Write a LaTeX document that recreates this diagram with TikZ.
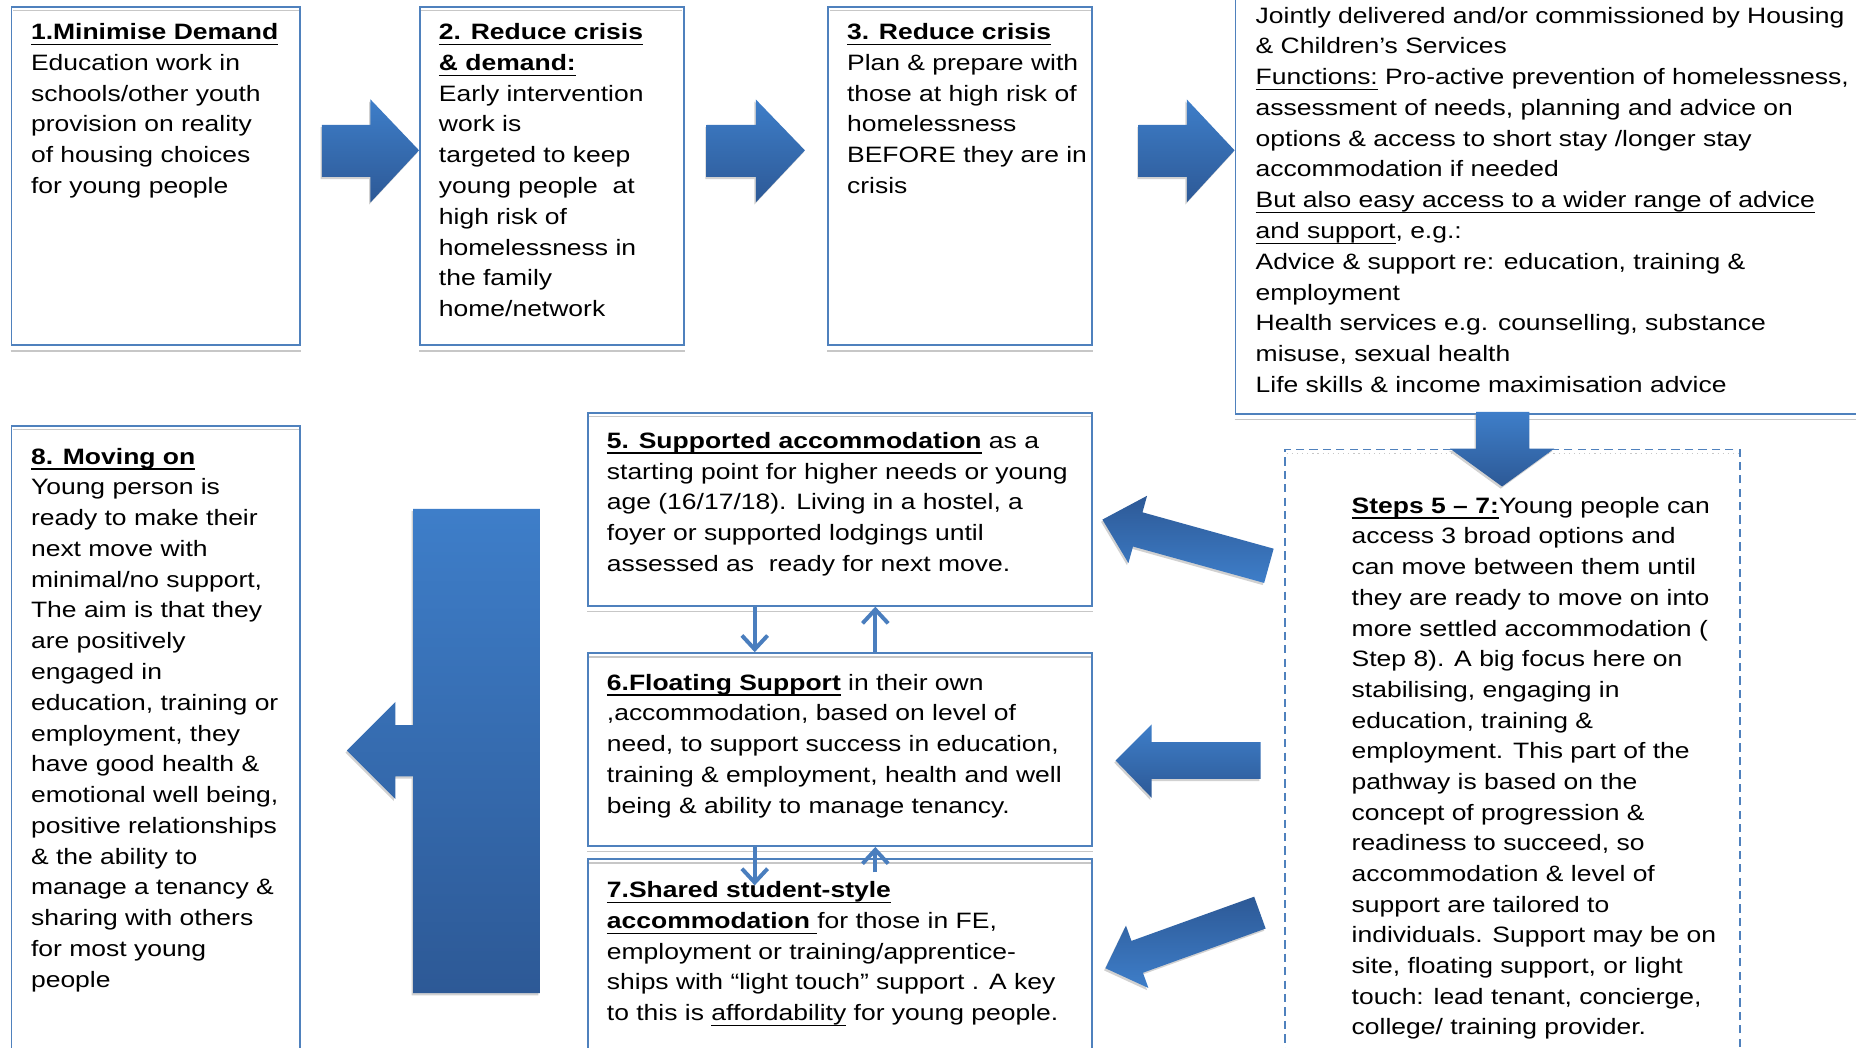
\documentclass[tikz,border=0pt]{standalone}
\usepackage{fontspec}
\setmainfont{Liberation Sans}[FakeStretch=1.19]
\usetikzlibrary{arrows.meta,calc}
\definecolor{boxblue}{RGB}{79,129,189}
\definecolor{arrtop}{RGB}{62,126,201}
\definecolor{arrbot}{RGB}{45,89,150}
\definecolor{lineblue}{RGB}{74,126,190}
\newsavebox\ulbox
\newcommand{\ulin}[1]{\sbox\ulbox{#1}\rlap{\rule[-2.9pt]{\wd\ulbox}{0.8pt}}\usebox\ulbox}
\begin{document}
\begin{tikzpicture}[x=0.6pt,y=-0.6pt,
  box/.style={draw=boxblue, line width=0.9pt, inner sep=0pt, anchor=north west},
  dbox/.style={draw=boxblue, line width=0.9pt, inner sep=0pt, anchor=north west, dash pattern=on 4.2pt off 2.6pt},
  txt/.style={font=\fontsize{11.28pt}{15.6pt}\selectfont, align=left, inner sep=0pt, anchor=north west, execute at begin node={\rule{0pt}{10pt}}},
  gline/.style={draw=black!22, line width=0.6pt},
  shadowpre/.style={preaction={fill=black!40, opacity=0.45, transform canvas={shift={(-0.7pt,-1.1pt)}}}},
  blk/.style={shadowpre, top color=arrtop, bottom color=arrbot, draw=none},
  blkr/.style={shadowpre, top color=arrbot, bottom color=arrtop, draw=none},
  smallarr/.style={draw=lineblue, line width=2pt, -{Straight Barb[length=7pt,width=13pt,line width=2pt]}}
]
\useasboundingbox (0,0) rectangle (1568,885);
\clip (0,0) rectangle (1568,885);
\fill[white] (0,0) rectangle (1568,885);

% ---------- boxes ----------
\node[box, minimum width={244*0.6pt}, minimum height={286*0.6pt}] (b1) at (9,5) {};
\node[box, minimum width={223*0.6pt}, minimum height={286*0.6pt}] (b2) at (354,5) {};
\node[box, minimum width={223*0.6pt}, minimum height={286*0.6pt}] (b3) at (699,5) {};
\node[box, minimum width={600*0.6pt}, minimum height={369*0.6pt}] (b4) at (1043,-20) {};
\node[box, minimum width={244*0.6pt}, minimum height={560*0.6pt}] (b8) at (9,359) {};
\node[box, minimum width={426*0.6pt}, minimum height={163*0.6pt}] (b5) at (496,348) {};
\node[box, minimum width={426*0.6pt}, minimum height={163*0.6pt}] (b6) at (496,551) {};
\node[box, minimum width={426*0.6pt}, minimum height={200*0.6pt}] (b7) at (496,725) {};
\node[dbox, minimum width={384*0.6pt}, minimum height={540*0.6pt}] (s57) at (1085,379) {};

\foreach \b in {b1,b2,b3,b5,b6,b8}{
  \draw[gline] ($(\b.north west)+(2,4)$) -- ($(\b.north east)+(-2,4)$);
  \draw[gline] ($(\b.south west)+(0,4)$) -- ($(\b.south east)+(0,4)$);
}
\draw[gline] ($(b7.north west)+(2,4)$) -- ($(b7.north east)+(-2,4)$);
\draw[gline] ($(b4.south west)+(0,4)$) -- ($(b4.south east)+(0,4)$);
\draw[gline, dotted] ($(s57.north west)+(2,4)$) -- ($(s57.north east)+(-2,4)$);

% ---------- texts ----------
\node[txt] (t1) at (25.9,19.5) {\ulin{\textbf{1.Minimise Demand}}\\
Education work in\\
schools/other youth\\
provision on reality\\
of housing choices\\
for young people};

\node[txt] (t2) at (370.5,19.5) {\ulin{\textbf{2. Reduce crisis}}\\
\ulin{\textbf{\& demand:}}\\
Early intervention\\
work is\\
targeted to keep\\
young people\ \ at\\
high risk of\\
homelessness in\\
the family\\
home/network};

\node[txt] (t3) at (715.3,19.5) {\ulin{\textbf{3. Reduce crisis}}\\
Plan \& prepare with\\
those at high risk of\\
homelessness\\
BEFORE they are in\\
crisis};

\node[txt] (t4) at (1060.5,5.5) {Jointly delivered and/or commissioned by Housing\\
\& Children’s Services\\
\ulin{Functions:} Pro-active prevention of homelessness,\\
assessment of needs, planning and advice on\\
options \& access to short stay /longer stay\\
accommodation if needed\\
\ulin{But also easy access to a wider range of advice}\\
\ulin{and support}, e.g.:\\
Advice \& support re: education, training \&\\
employment\\
Health services e.g. counselling, substance\\
misuse, sexual health\\
Life skills \& income maximisation advice};

\node[txt] (t5) at (512.4,364.8) {\ulin{\textbf{5. Supported accommodation}} as a\\
starting point for higher needs or young\\
age (16/17/18). Living in a hostel, a\\
foyer or supported lodgings until\\
assessed as\ \ ready for next move.};

\node[txt] (t6) at (512.4,569.1) {\ulin{\textbf{6.Floating Support}} in their own\\
,accommodation, based on level of\\
need, to support success in education,\\
training \& employment, health and well\\
being \& ability to manage tenancy.};

\node[txt] (t7) at (512.4,744.4) {\ulin{\textbf{7.Shared student-style}}\\
\ulin{\textbf{accommodation }}for those in FE,\\
employment or training/apprentice-\\
ships with “light touch” support . A key\\
to this is \ulin{affordability} for young people.};

\node[txt] (t8) at (25.9,378.1) {\ulin{\textbf{8. Moving on}}\\
Young person is\\
ready to make their\\
next move with\\
minimal/no support,\\
The aim is that they\\
are positively\\
engaged in\\
education, training or\\
employment, they\\
have good health \&\\
emotional well being,\\
positive relationships\\
\& the ability to\\
manage a tenancy \&\\
sharing with others\\
for most young\\
people};

\node[txt, font=\fontsize{11.28pt}{15.55pt}\selectfont] (ts) at (1141.6,419.7) {\ulin{\textbf{Steps 5 – 7:}}Young people can\\
access 3 broad options and\\
can move between them until\\
they are ready to move on into\\
more settled accommodation (\\
Step 8). A big focus here on\\
stabilising, engaging in\\
education, training \&\\
employment. This part of the\\
pathway is based on the\\
concept of progression \&\\
readiness to succeed, so\\
accommodation \& level of\\
support are tailored to\\
individuals. Support may be on\\
site, floating support, or light\\
touch: lead tenant, concierge,\\
college/ training provider.};

% ---------- block arrows ----------
\shade[blk] (272,105.5) -- (313,105.5) -- (313,84) -- (b2.west |- 0,127) -- (313,171) -- (313,149.5) -- (272,149.5) -- cycle;
\shade[blk] (597,105.5) -- (638.5,105.5) -- (638.5,84) -- (680,127) -- (638.5,171) -- (638.5,149.5) -- (597,149.5) -- cycle;
\shade[blk] (962,105.5) -- (1002.6,105.5) -- (1002.6,84) -- (b4.west |- 0,127) -- (1002.6,171) -- (1002.6,149.5) -- (962,149.5) -- cycle;

% down arrow from box 4 into steps box
\shade[blk] (1247,348) -- (1292,348) -- (1292,379) -- (1313,379) -- (1269,411) -- (1225,379) -- (1247,379) -- cycle;

% arrow to box 5 (tilted)
\begin{scope}[shift={(1072,478)}, rotate=164.5]
\shade[blkr] (0,-15) -- (115,-15) -- (115,-29.5) -- (146,0) -- (115,29.5) -- (115,15) -- (0,15) -- cycle;
\end{scope}
% arrow to box 6
\shade[blk] (1065,627) -- (973,627) -- (973,612) -- (942.5,642.5) -- (973,674) -- (973,658) -- (1065,658) -- cycle;
% arrow to box 7 (tilted)
\begin{scope}[shift={(1064.4,771)}, rotate=199.8]
\shade[blkr] (0,-14.3) -- (110.2,-14.3) -- (110.2,-28) -- (138.7,0) -- (110.2,28) -- (110.2,14.3) -- (0,14.3) -- cycle;
\end{scope}

% bar with arrow to box 8
\shade[blk] (349,430) -- (456,430) -- (456,839) -- (349,839) -- (349,656) -- (334,656) -- (334,675) -- (293,634) -- (334,593) -- (334,612.5) -- (349,612.5) -- cycle;

% ---------- small arrows between 5, 6, 7 ----------
\coordinate (dL) at (637.6,0);
\coordinate (dR) at (739.5,0);
\coordinate (d67) at (637.6,748);
\coordinate (u76) at (739.5,737);
\draw[smallarr] (b5.south -| dL) -- (b6.north -| dL);
\draw[smallarr] (b6.north -| dR) -- (b5.south -| dR);
\draw[smallarr] (b6.south -| dL) -- (d67);
\draw[smallarr] (u76) -- (b6.south -| dR);
\end{tikzpicture}
\end{document}
